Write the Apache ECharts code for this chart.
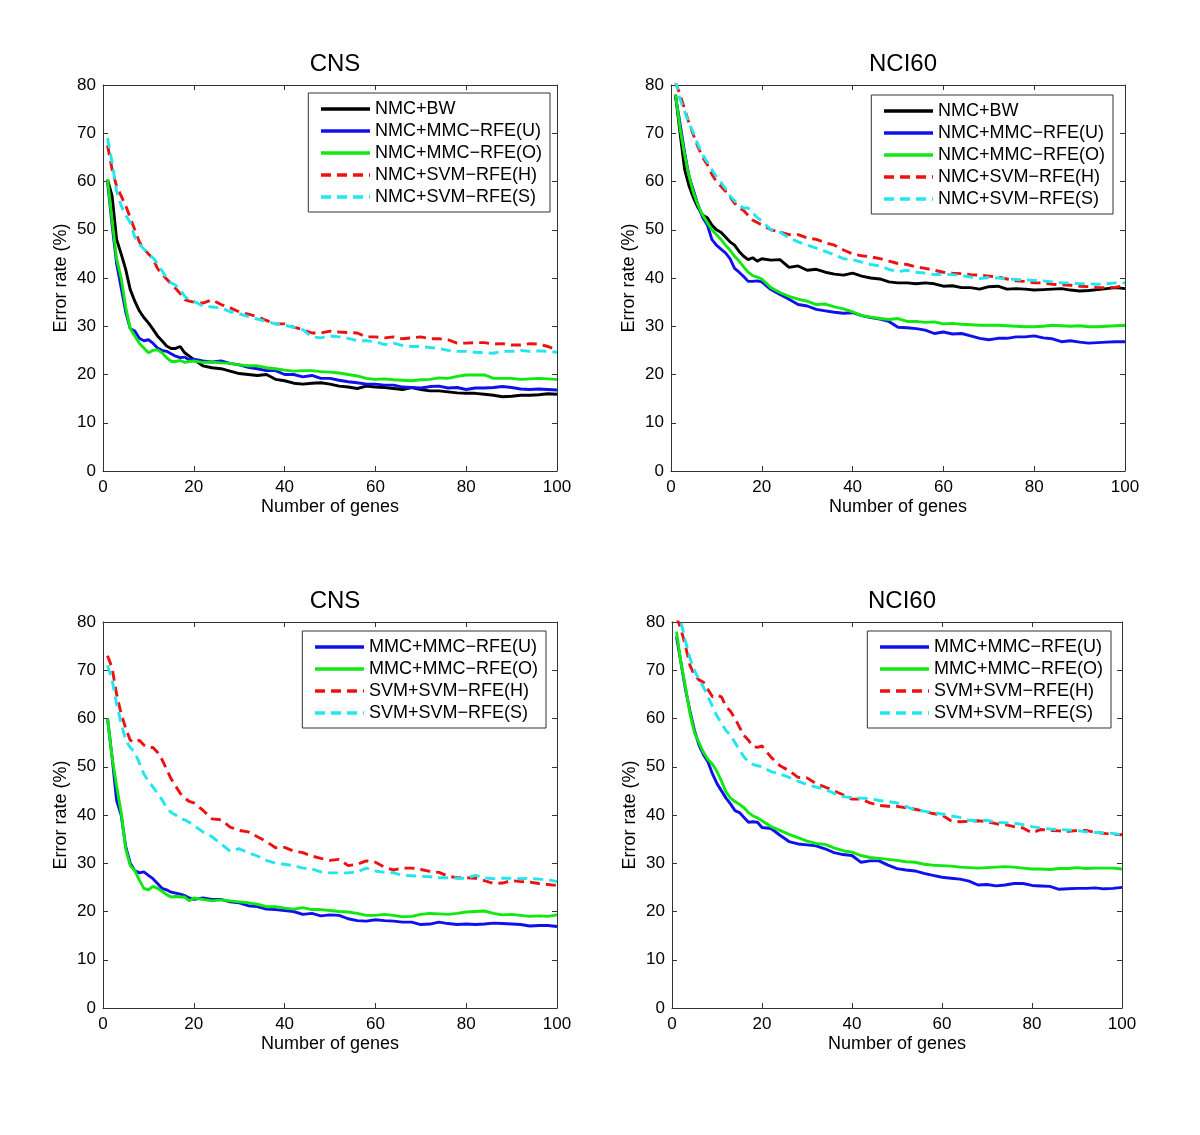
<!DOCTYPE html>
<html>
<head>
<meta charset="utf-8">
<script src="https://cdn.jsdelivr.net/npm/echarts@6/dist/echarts.min.js"></script>
<style>
  html, body { margin: 0; padding: 0; background: #fff; }
  #chart { width: 1200px; height: 1135px; }
</style>
</head>
<body>
<div id="chart"></div>
<script>
// Number of genes (x positions of the readings)
const X_GENES = [
  1, 2, 3, 4, 5, 6, 7, 8, 9, 10,
  11, 12, 13, 14, 15, 16, 17, 18, 19, 20,
  22, 24, 26, 28, 30, 32, 34, 36, 38, 40,
  42, 44, 46, 48, 50, 52, 54, 56, 58, 60,
  62, 64, 66, 68, 70, 72, 74, 76, 78, 80,
  82, 84, 86, 88, 90, 92, 94, 96, 98, 100
];

const PANEL_TITLES = ['CNS', 'NCI60', 'CNS', 'NCI60'];
const X_TICKS = [0, 20, 40, 60, 80, 100];
const Y_TICKS = [0, 10, 20, 30, 40, 50, 60, 70, 80];

const LEGEND_TOP = ['NMC+BW', 'NMC+MMC\u2212RFE(U)', 'NMC+MMC\u2212RFE(O)', 'NMC+SVM\u2212RFE(H)', 'NMC+SVM\u2212RFE(S)'];
const LEGEND_BOTTOM = ['MMC+MMC\u2212RFE(U)', 'MMC+MMC\u2212RFE(O)', 'SVM+SVM\u2212RFE(H)', 'SVM+SVM\u2212RFE(S)'];

// ---- Top-left: CNS ----
const CNS_NMC_BW = [
  60.4, 57, 48, 45, 41.8, 37.6, 35.2, 33.2, 31.8, 30.7,
  29.4, 28, 27, 25.9, 25.4, 25.4, 25.8, 24.5, 23.8, 23.1,
  21.8, 21.4, 21.2, 20.7, 20.2, 20.0, 19.8, 20.0, 19.0, 18.7,
  18.2, 18.0, 18.2, 18.3, 18.0, 17.6, 17.4, 17.1, 17.6, 17.4,
  17.3, 17.1, 16.9, 17.3, 16.9, 16.6, 16.6, 16.4, 16.2, 16.1,
  16.1, 15.9, 15.7, 15.4, 15.5, 15.7, 15.7, 15.8, 16.0, 15.9
];
const CNS_NMC_MMC_U = [
  60, 51, 43, 38, 33, 29.5, 29, 27.5, 27, 27.2,
  26.5, 25.5, 25, 24.8, 24.3, 23.8, 23.5, 23.6, 23, 23.2,
  22.8, 22.6, 22.8, 22.3, 22, 21.5, 21.2, 20.8, 20.8, 20.0,
  20.0, 19.5, 19.8, 19.2, 19.2, 18.8, 18.5, 18.3, 18.0, 18.0,
  17.8, 17.8, 17.4, 17.3, 17.2, 17.5, 17.6, 17.2, 17.3, 16.9,
  17.2, 17.2, 17.3, 17.5, 17.3, 17.0, 16.9, 17.0, 16.9, 16.8
];
const CNS_NMC_MMC_O = [
  60.5, 52, 44, 40, 34, 29.5, 28, 26.5, 25.5, 24.5,
  25, 25.1, 24.5, 23.5, 22.7, 22.7, 22.9, 22.5, 22.7, 22.8,
  22.5, 22.6, 22.4, 22.3, 22.0, 21.8, 21.8, 21.4, 21.2, 20.9,
  20.7, 20.8, 20.8, 20.6, 20.5, 20.3, 20.0, 19.7, 19.2, 19.0,
  19.1, 18.9, 18.8, 18.7, 18.9, 19.0, 19.3, 19.2, 19.6, 19.9,
  19.9, 19.9, 19.2, 19.2, 19.2, 19.0, 19.1, 19.2, 19.1, 19.0
];
const CNS_NMC_SVM_H = [
  67.5, 62.5, 59, 57, 55, 52.5, 50, 47.5, 46, 45,
  44, 42, 40.8, 39.8, 38.8, 37.8, 36.8, 35.5, 35.2, 35.0,
  34.8, 35.5, 34.5, 33.8, 33.0, 32.5, 32.0, 31.2, 30.5, 30.5,
  29.8, 29.3, 28.6, 28.6, 29.0, 28.8, 28.7, 28.6, 27.8, 27.8,
  27.6, 27.8, 27.4, 27.6, 27.8, 27.4, 27.4, 27.2, 26.5, 26.5,
  26.6, 26.6, 26.3, 26.4, 26.1, 26.1, 26.4, 26.3, 25.8, 25.1
];
const CNS_NMC_SVM_S = [
  69, 64, 58, 55, 53, 51.5, 48.5, 47, 46, 45,
  44.2, 43, 41.5, 40, 39, 38.5, 37.5, 36.2, 35.5, 35.2,
  34.2, 34.0, 33.8, 33.0, 32.6, 32.0, 31.5, 31.0, 30.5, 30.2,
  29.8, 29.3, 27.8, 27.6, 28.0, 27.8, 27.5, 27.0, 27.0, 26.8,
  26.2, 26.5, 26.0, 25.8, 25.8, 25.6, 25.4, 25.0, 24.8, 24.8,
  24.6, 24.5, 24.4, 24.8, 24.8, 25.0, 24.8, 24.9, 24.8, 24.6
];

// ---- Top-right: NCI60 ----
const NCI_NMC_BW = [
  78, 70, 62.5, 59, 56.5, 54.5, 53, 52.5, 51, 50,
  49.5, 48.5, 47.5, 46.8, 45.5, 44.5, 43.8, 44.2, 43.5, 44,
  43.7, 43.8, 42.2, 42.5, 41.6, 41.8, 41.2, 40.8, 40.6, 41.0,
  40.4, 40.0, 39.8, 39.2, 39.0, 39.0, 38.8, 39.0, 38.8, 38.3,
  38.4, 38.0, 38.0, 37.7, 38.2, 38.3, 37.7, 37.8, 37.7, 37.5,
  37.6, 37.7, 37.8, 37.5, 37.3, 37.4, 37.6, 37.8, 38.0, 37.8
];
const NCI_NMC_MMC_U = [
  77.5, 72, 66, 61, 58, 55, 52.5, 51, 48, 46.8,
  46, 45.2, 44, 42, 41.2, 40.3, 39.3, 39.3, 39.4, 39.2,
  37.6, 36.6, 35.6, 34.5, 34.2, 33.5, 33.2, 32.9, 32.7, 32.8,
  32.2, 31.8, 31.5, 31.0, 29.8, 29.7, 29.5, 29.2, 28.5, 28.8,
  28.4, 28.5, 28.0, 27.5, 27.2, 27.5, 27.5, 27.8, 27.8, 28.0,
  27.6, 27.4, 26.8, 27.0, 26.7, 26.5, 26.6, 26.7, 26.8, 26.8
];
const NCI_NMC_MMC_O = [
  78, 71, 65.5, 61, 57.5, 55, 53, 51.5, 50, 49,
  48, 46.8, 45.8, 44.5, 43.5, 42.3, 41.2, 40.5, 40.2, 39.8,
  38.0, 37.0, 36.2, 35.6, 35.2, 34.5, 34.6, 34.0, 33.6, 33.0,
  32.2, 31.9, 31.6, 31.4, 31.6, 31.0, 31.0, 30.8, 30.9, 30.5,
  30.6, 30.4, 30.3, 30.2, 30.2, 30.2, 30.1, 30.0, 29.9, 29.9,
  30.0, 30.2, 30.1, 30.0, 30.1, 29.9, 29.9, 30.0, 30.1, 30.2
];
const NCI_NMC_SVM_H = [
  80.5, 78, 75, 72, 69.5, 67, 65, 63.5, 61.5, 60,
  59, 58, 56.8, 55.5, 54.5, 54, 53, 52, 51.5, 51,
  50, 49.5, 49.0, 49.0, 48.3, 48.0, 47.3, 46.8, 45.8, 45.0,
  44.6, 44.4, 44.0, 43.5, 43.0, 42.8, 42.3, 42.0, 41.6, 41.2,
  41.0, 40.9, 40.7, 40.6, 40.4, 40.2, 39.8, 39.4, 39.3, 39.0,
  39.0, 38.7, 38.6, 38.5, 38.3, 38.2, 38.0, 38.0, 38.1, 38.4
];
const NCI_NMC_SVM_S = [
  81, 77, 74.5, 72, 70, 67.5, 65.5, 64, 62.5, 61,
  59.8, 58.5, 57, 56, 55, 54.5, 54.5, 53.5, 52.5, 51.8,
  50.0, 49.5, 48.3, 47.5, 46.8, 46.2, 45.5, 44.8, 44.0, 43.8,
  43.3, 42.8, 42.5, 41.8, 41.3, 41.6, 41.2, 41.0, 40.7, 40.8,
  40.7, 40.5, 40.2, 39.9, 40.1, 40.0, 39.8, 39.7, 39.6, 39.5,
  39.4, 39.2, 39.0, 39.0, 38.8, 38.8, 38.7, 38.8, 39.0, 39.0
];

// ---- Bottom-left: CNS ----
const CNS_MMC_MMC_U = [
  60, 52, 43, 40, 33.5, 30, 28.5, 28, 28.2, 27.5,
  26.8, 25.8, 24.8, 24.5, 24.0, 23.8, 23.6, 23.3, 22.8, 22.5,
  22.8, 22.5, 22.5, 22.0, 21.8, 21.2, 21.0, 20.5, 20.4, 20.2,
  20.0, 19.4, 19.6, 19.1, 19.3, 19.2, 18.5, 18.1, 18.0, 18.3,
  18.1, 18.0, 17.8, 17.8, 17.3, 17.4, 17.8, 17.5, 17.3, 17.4,
  17.3, 17.4, 17.6, 17.5, 17.4, 17.3, 17.0, 17.1, 17.1, 16.9
];
const CNS_MMC_MMC_O = [
  60, 52, 46, 40.5, 33, 29.5, 28.5, 26.5, 24.8, 24.5,
  25.2, 24.8, 24.2, 23.5, 23.0, 23.1, 23.0, 23.0, 22.2, 22.8,
  22.5, 22.2, 22.4, 22.2, 22.0, 21.8, 21.5, 21.0, 21.0, 20.7,
  20.5, 20.8, 20.4, 20.4, 20.2, 20.0, 19.9, 19.6, 19.2, 19.2,
  19.4, 19.2, 18.9, 19.0, 19.4, 19.6, 19.5, 19.4, 19.6, 19.9,
  20.0, 20.1, 19.6, 19.3, 19.4, 19.2, 19.0, 19.1, 19.0, 19.3
];
const CNS_SVM_SVM_H = [
  73, 70.5, 65, 61, 58, 55.5, 55, 55.5, 54.5, 54.0,
  54.0, 53, 51.5, 49.5, 47.5, 46, 44.5, 43.5, 42.8, 42.5,
  41, 39.2, 39.0, 37.5, 36.8, 36.5, 35.5, 34.5, 33.2, 33.3,
  32.5, 32.2, 31.5, 31.0, 30.6, 30.8, 29.5, 29.8, 30.5, 30.2,
  29.2, 28.6, 29.0, 29.0, 28.7, 28.3, 28.1, 27.3, 27.0, 27.0,
  26.9, 26.4, 25.8, 25.9, 26.4, 26.2, 26.1, 25.8, 25.6, 25.4
];
const CNS_SVM_SVM_S = [
  71, 68, 63, 59, 55.5, 54, 53, 50.8, 48.5, 47,
  45.8, 44.5, 43.2, 41.5, 40.5, 40, 39.3, 39.0, 38.5, 37.8,
  36.5, 35.5, 34.0, 32.5, 33.0, 32.2, 31.5, 30.6, 30.0, 29.8,
  29.5, 29.0, 28.8, 28.2, 28.0, 28.0, 28.0, 28.2, 29.0, 28.4,
  28.1, 28.0, 27.5, 27.4, 27.3, 27.2, 27.0, 27.0, 26.9, 26.9,
  27.5, 27.0, 26.8, 26.9, 26.9, 26.8, 26.9, 26.7, 26.6, 26.2
];

// ---- Bottom-right: NCI60 ----
const NCI_MMC_MMC_U = [
  77, 71.5, 66, 61.5, 57.5, 54.5, 52.5, 51, 48.5, 46.5,
  45, 43.5, 42.3, 40.9, 40.5, 39.5, 38.5, 38.6, 38.5, 37.4,
  37.2, 35.8, 34.5, 34.0, 33.8, 33.6, 33.0, 32.2, 31.8, 31.6,
  30.2, 30.5, 30.5, 29.6, 28.9, 28.6, 28.4, 27.9, 27.5, 27.1,
  26.9, 26.7, 26.3, 25.5, 25.6, 25.3, 25.5, 25.8, 25.8, 25.4,
  25.3, 25.2, 24.6, 24.7, 24.8, 24.8, 24.9, 24.7, 24.8, 25.0
];
const NCI_MMC_MMC_O = [
  78, 71.5, 66.5, 61, 57, 55, 53, 51.5, 50.5, 49,
  47, 44.8, 43.5, 42.8, 42.2, 41.5, 40.5, 39.8, 39.4, 38.8,
  37.6, 36.8, 36.0, 35.3, 34.6, 34.1, 33.9, 33.2, 32.6, 32.3,
  31.6, 31.2, 31.0, 30.8, 30.6, 30.3, 30.2, 29.8, 29.6, 29.5,
  29.4, 29.2, 29.1, 29.0, 29.1, 29.2, 29.3, 29.2, 29.0, 28.8,
  28.8, 28.7, 28.9, 28.9, 29.1, 28.9, 29.0, 29.0, 29.0, 28.8
];
const NCI_SVM_SVM_H = [
  81, 78.5, 75, 71, 69, 68, 67.5, 66, 64.5, 64.8,
  64.5, 62.5, 61.5, 60, 58.2, 56.5, 55.5, 54.2, 54, 54.3,
  52, 50.2, 49.2, 47.8, 47.7, 46.5, 45.8, 45.0, 44.2, 43.3,
  43.3, 42.5, 42.0, 41.8, 41.8, 41.5, 41.2, 40.8, 40.3, 40.0,
  38.8, 38.6, 38.7, 38.8, 38.6, 38.2, 38.0, 37.6, 37.3, 36.3,
  37.0, 36.8, 36.7, 36.6, 36.8, 36.8, 36.4, 36.2, 36.0, 35.9
];
const NCI_SVM_SVM_S = [
  83, 80, 76, 72.5, 70, 68, 66.5, 64.5, 62.5, 60.5,
  59, 57.5, 56.5, 55, 53.5, 52, 51, 50.5, 50.2, 50.0,
  49.0, 48.5, 47.8, 47.0, 46.3, 45.8, 45.3, 44.5, 43.8, 43.6,
  43.5, 43.4, 43.0, 42.8, 42.5, 41.8, 41.0, 40.8, 40.5, 40.2,
  39.8, 39.5, 38.9, 38.8, 38.9, 38.5, 38.4, 38.3, 38.0, 37.6,
  37.3, 37.1, 37.0, 36.9, 36.8, 36.5, 36.4, 36.3, 36.2, 35.9
];

// ---------- styling / layout ----------
const FONT = '"Liberation Sans", Arial, Helvetica, sans-serif';
const COLORS = { k: '#000000', b: '#1010ee', g: '#10e810', r: '#ee1111', c: '#22e5f0' };
const DASH = [10, 6];

const GRIDS = [
  { left: 103, top: 85, width: 454, height: 386 },
  { left: 671, top: 85, width: 454, height: 386 },
  { left: 103, top: 622, width: 454, height: 386 },
  { left: 672, top: 622, width: 450, height: 386 }
];

const LEGEND_POS = [
  { right: 650, top: 93 },
  { right: 87, top: 95 },
  { right: 654, top: 631 },
  { right: 89, top: 631 }
];

const PANELS = [
  { names: LEGEND_TOP, data: [CNS_NMC_BW, CNS_NMC_MMC_U, CNS_NMC_MMC_O, CNS_NMC_SVM_H, CNS_NMC_SVM_S], cols: ['k','b','g','r','c'] },
  { names: LEGEND_TOP, data: [NCI_NMC_BW, NCI_NMC_MMC_U, NCI_NMC_MMC_O, NCI_NMC_SVM_H, NCI_NMC_SVM_S], cols: ['k','b','g','r','c'] },
  { names: LEGEND_BOTTOM, data: [CNS_MMC_MMC_U, CNS_MMC_MMC_O, CNS_SVM_SVM_H, CNS_SVM_SVM_S], cols: ['b','g','r','c'] },
  { names: LEGEND_BOTTOM, data: [NCI_MMC_MMC_U, NCI_MMC_MMC_O, NCI_SVM_SVM_H, NCI_SVM_SVM_S], cols: ['b','g','r','c'] }
];

function pairs(xs, ys) { return xs.map((x, i) => [x, ys[i]]); }

const axisLine = { show: true, onZero: false, lineStyle: { color: '#333', width: 1 } };
const axisTick = { show: true, inside: true, length: 5, lineStyle: { color: '#333', width: 1 } };
const labelStyle = { color: '#000', fontSize: 17, fontFamily: FONT };

const option = {
  animation: false,
  backgroundColor: '#fff',
  title: [],
  grid: [],
  xAxis: [],
  yAxis: [],
  legend: [],
  series: []
};

PANELS.forEach((p, gi) => {
  const g = GRIDS[gi];
  option.grid.push(Object.assign({ containLabel: false }, g));
  option.title.push({
    text: PANEL_TITLES[gi],
    left: g.left + g.width / 2,
    top: g.top - 38,
    textAlign: 'center',
    textStyle: { fontSize: 24, fontWeight: 'normal', color: '#000', fontFamily: FONT }
  });
  const xi = option.xAxis.length;
  option.xAxis.push({
    type: 'value', gridIndex: gi, min: X_TICKS[0], max: X_TICKS[X_TICKS.length - 1], interval: 20,
    position: 'bottom', axisLine, axisTick, splitLine: { show: false },
    axisLabel: Object.assign({ margin: 8 }, labelStyle),
    name: 'Number of genes', nameLocation: 'middle', nameGap: 27,
    nameTextStyle: { fontSize: 18, color: '#000', fontFamily: FONT }
  });
  option.xAxis.push({
    type: 'value', gridIndex: gi, min: 0, max: 100, interval: 20,
    position: 'top', axisLine, axisTick, splitLine: { show: false }, axisLabel: { show: false }
  });
  const yi = option.yAxis.length;
  option.yAxis.push({
    type: 'value', gridIndex: gi, min: Y_TICKS[0], max: Y_TICKS[Y_TICKS.length - 1], interval: 10,
    position: 'left', axisLine, axisTick, splitLine: { show: false },
    axisLabel: Object.assign({ margin: 7 }, labelStyle),
    name: 'Error rate (%)', nameLocation: 'middle', nameGap: 33, nameRotate: 90,
    nameTextStyle: { fontSize: 18, color: '#000', fontFamily: FONT }
  });
  option.yAxis.push({
    type: 'value', gridIndex: gi, min: 0, max: 80, interval: 10,
    position: 'right', axisLine, axisTick, splitLine: { show: false }, axisLabel: { show: false }
  });
  p.names.forEach((nm, si) => {
    const col = p.cols[si];
    const dashed = (col === 'r' || col === 'c');
    option.series.push({
      name: nm, type: 'line', xAxisIndex: xi, yAxisIndex: yi,
      data: pairs(X_GENES, p.data[si]),
      symbol: 'none', showSymbol: false, clip: true, z: 2 + si,
      lineStyle: { color: COLORS[col], width: 2.9, type: dashed ? DASH : 'solid' },
      itemStyle: { color: COLORS[col] }
    });
  });
  option.legend.push(Object.assign({
    data: p.names.slice(),
    orient: 'vertical',
    backgroundColor: '#fff',
    borderColor: '#333', borderWidth: 1, borderRadius: 0,
    padding: [7, 8, 6, 11],
    itemWidth: 49, itemHeight: 12, itemGap: 4,
    selectedMode: false,
    itemStyle: { color: 'rgba(0,0,0,0)', borderColor: 'rgba(0,0,0,0)', borderWidth: 0, opacity: 0 },
    lineStyle: { width: 3.4 },
    textStyle: { fontSize: 18, color: '#000', fontFamily: FONT, lineHeight: 18 }
  }, LEGEND_POS[gi]));
});

const chart = echarts.init(document.getElementById('chart'), null, { renderer: 'canvas' });
chart.setOption(option);
</script>
</body>
</html>
